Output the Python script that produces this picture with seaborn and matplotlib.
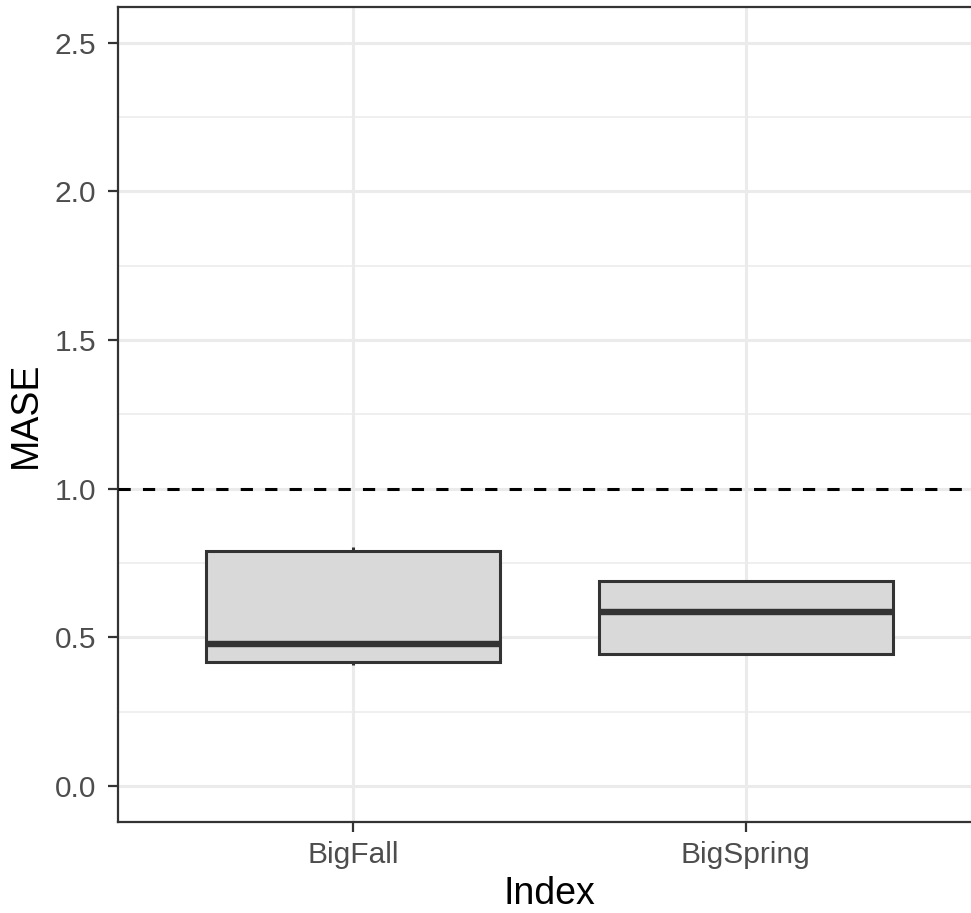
import matplotlib
matplotlib.use("Agg")
import matplotlib.pyplot as plt
import numpy as np
import pandas as pd
import seaborn as sns

# values (min, q1, median, q3, max)
big_fall = [0.407, 0.417, 0.478, 0.791, 0.804]
big_spring = [0.444, 0.444, 0.585, 0.690, 0.690]
categories = ["BigFall", "BigSpring"]
y_ticks = [0.0, 0.5, 1.0, 1.5, 2.0, 2.5]
ref_line = 1.0

df = pd.DataFrame({
    "Index": [categories[0]] * len(big_fall) + [categories[1]] * len(big_spring),
    "MASE": big_fall + big_spring,
})

sns.set_style("white")
plt.rcParams['font.family'] = ['Liberation Sans', 'DejaVu Sans']

W, H = 971, 913
fig = plt.figure(figsize=(W / 100, H / 100), dpi=100)
ax = fig.add_axes([118 / W, (H - 822) / H, (981 - 118) / W, (822 - 7) / H])

# grid like theme_bw
for y in np.arange(-0.25, 2.75, 0.25):
    major = abs(y * 2 - round(y * 2)) < 1e-9
    ax.axhline(y, color="#EBEBEB", lw=2.2 if major else 1.1, zorder=0)
for x in range(len(categories)):
    ax.axvline(x, color="#EBEBEB", lw=2.2, zorder=0)

sns.boxplot(data=df, x="Index", y="MASE", order=categories, ax=ax,
            color="#D9D9D9", width=0.75, whis=1.5, showcaps=False,
            fliersize=0, saturation=1,
            boxprops=dict(edgecolor="#333333", linewidth=2.2),
            whiskerprops=dict(color="#333333", linewidth=2.2),
            medianprops=dict(color="#333333", linewidth=4.6),
            zorder=2)

ax.axhline(ref_line, color="black", lw=2.2, ls=(0, (4, 4)), zorder=3)

ax.set_ylim(-0.121, 2.62)
ax.set_xlim(-0.6, 1.6)
ax.set_yticks(y_ticks)
ax.set_yticklabels([f"{v:.1f}" for v in y_ticks])
ax.set_xlabel("Index", fontsize=27, color="black")
ax.set_ylabel("MASE", fontsize=27, color="black")
ax.xaxis.set_label_coords(0.5, -0.066)
ax.yaxis.set_label_coords(-0.086, 0.5)
ax.tick_params(axis="both", which="major", labelsize=21.5, labelcolor="#4D4D4D",
               color="#333333", length=7.5, width=1.6, left=True, bottom=True)
ax.tick_params(axis="x", pad=6.5)
ax.tick_params(axis="y", pad=8.3)
for s in ax.spines.values():
    s.set_color("#333333")
    s.set_linewidth(1.6)
ax.set_facecolor("white")

fig.savefig("out.png", dpi=100)
